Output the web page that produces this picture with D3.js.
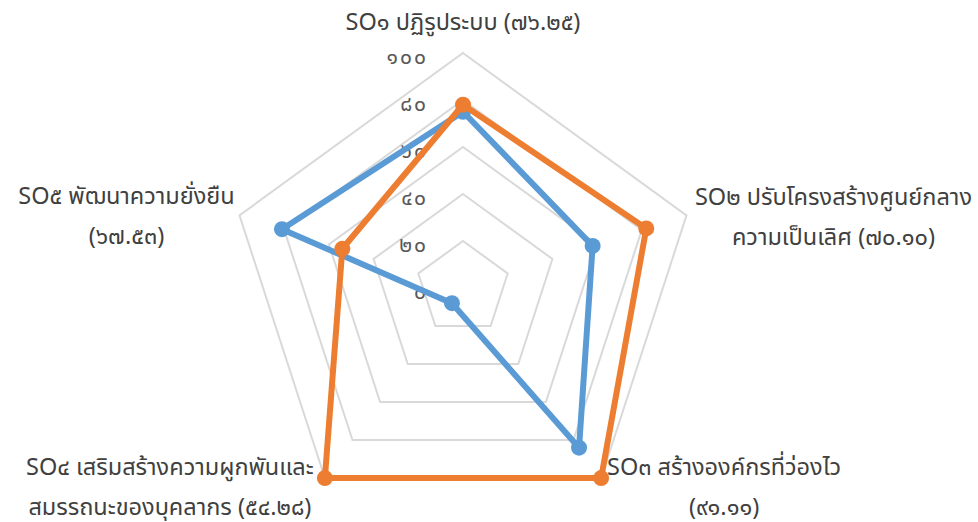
<!DOCTYPE html>
<html><head><meta charset="utf-8">
<script src="https://cdn.jsdelivr.net/npm/d3@7"></script>
<style>
html,body{margin:0;padding:0;background:#fff;}
text{font-family:"Noto Sans","Noto Sans Thai","Leelawadee UI",Tahoma,sans-serif;}
</style></head>
<body><svg id="chart" width="978" height="522"></svg>
<script>
// ---- data ----
const categories = [
  ["SO๑ ปฏิรูประบบ (๗๖.๒๕)"],
  ["SO๒ ปรับโครงสร้างศูนย์กลาง", "ความเป็นเลิศ (๗๐.๑๐)"],
  ["SO๓ สร้างองค์กรที่ว่องไว", "(๙๑.๑๑)"],
  ["SO๔ เสริมสร้างความผูกพันและ", "สมรรถนะของบุคลากร (๕๔.๒๘)"],
  ["SO๕ พัฒนาความยั่งยืน", "(๖๗.๕๓)"]
];
const seriesBlue = [75, 58, 84, 8, 81];
const seriesOrange = [78, 82, 100, 100, 54];
const tickValues = [0, 20, 40, 60, 80, 100];
const tickLabels = ["๐", "๒๐", "๔๐", "๖๐", "๘๐", "๑๐๐"];

// ---- layout ----
const cx = 463, cy = 288, R = 235;
const labelOffsets = [[0, -31], [147, 1], [123, 9], [-155, 9], [-113, 0]];
const lineGap = 40;
const colors = {blue: "#5b9bd5", orange: "#ed7d31", grid: "#d9d9d9", text: "#404040", tick: "#595959"};

const svg = d3.select("#chart");
const g = svg.append("g").attr("transform", `translate(${cx},${cy})`);
const r = d3.scaleLinear().domain([0, 100]).range([0, R]);
const angle = d3.scalePoint().domain(d3.range(categories.length)).range([0, 2 * Math.PI * (categories.length - 1) / categories.length]);
const pt = (i, v) => [r(v) * Math.sin(angle(i)), -r(v) * Math.cos(angle(i))];

// grid
tickValues.filter(v => v > 0).forEach(v => {
  g.append("path")
    .attr("d", d3.line()(categories.map((c, i) => pt(i, v))) + "Z")
    .attr("fill", "none").attr("stroke", colors.grid).attr("stroke-width", 2);
});

// tick labels
g.selectAll("text.tick").data(tickValues).join("text")
  .attr("class", "tick")
  .attr("x", -35).attr("y", d => -r(d) + 4).attr("dy", "0.35em")
  .attr("text-anchor", "end").attr("font-size", 21).attr("letter-spacing", 2).attr("fill", colors.tick)
  .text((d, i) => tickLabels[i]);

// series
function drawSeries(vals, color) {
  const pts = vals.map((v, i) => pt(i, v));
  g.append("path").attr("d", d3.line()(pts) + "Z")
    .attr("fill", "none").attr("stroke", color).attr("stroke-width", 6).attr("stroke-linejoin", "round");
  g.selectAll(null).data(pts).join("circle")
    .attr("cx", d => d[0]).attr("cy", d => d[1]).attr("r", 8).attr("fill", color);
}
drawSeries(seriesBlue, colors.blue);
drawSeries(seriesOrange, colors.orange);

// category labels
categories.forEach((lines, i) => {
  const p = pt(i, 100);
  const x = p[0] + labelOffsets[i][0];
  const y0 = p[1] + labelOffsets[i][1] - (lines.length - 1) * lineGap / 2;
  const t = g.append("text").attr("text-anchor", "middle").attr("font-size", 23.5).attr("fill", colors.text);
  lines.forEach((s, k) => {
    t.append("tspan").attr("x", x).attr("y", y0 + k * lineGap).attr("dy", "0.35em").text(s);
  });
});
</script></body></html>
